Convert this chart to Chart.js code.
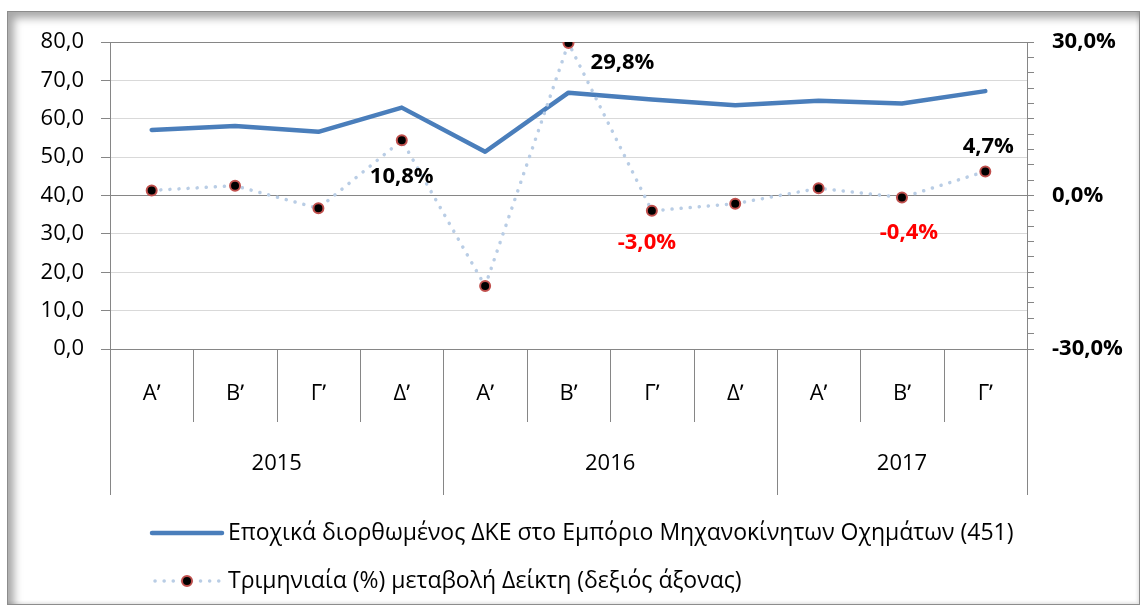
<!DOCTYPE html>
<html lang="el">
<head>
    <meta charset="UTF-8">
    <title>ΔΚΕ Εμπόριο Μηχανοκίνητων Οχημάτων</title>
    <style>
        body { margin: 0; background: #fff; }
        #frame {
            position: absolute; left: 7px; top: 11px; width: 1131px; height: 592px;
            border: 1px solid #8c8c8c;
            box-shadow: inset 6px 6px 8px rgba(0,0,0,0.35), inset -2px -2px 3px rgba(0,0,0,0.08);
        }
        #chart { position: absolute; left: 0; top: 0; }
    </style>
</head>
<body>
    <div id="frame"></div>
    <canvas id="chart" width="1144" height="610"></canvas>

    <script src="https://cdn.jsdelivr.net/npm/chart.js@4.4.0/dist/chart.umd.min.js"></script>
    <script>
        // categories
        const quarters = ['Α\u02B9', 'Β\u02B9', 'Γ\u02B9', 'Δ\u02B9', 'Α\u02B9', 'Β\u02B9', 'Γ\u02B9', 'Δ\u02B9', 'Α\u02B9', 'Β\u02B9', 'Γ\u02B9'];
        const years = ['2015', '2016', '2017'];
        const quartersPerYear = [4, 4, 3];

        // series
        const indexValues = [57.1, 58.1, 56.6, 62.9, 51.4, 66.8, 65.0, 63.5, 64.7, 64.0, 67.2];
        const quarterlyChange = [1.0, 1.9, -2.5, 10.8, -17.7, 29.8, -3.0, -1.6, 1.4, -0.4, 4.7];
        const labelledPoints = [3, 5, 6, 9, 10];

        // axes
        const leftTicks = [0, 10, 20, 30, 40, 50, 60, 70, 80];
        const rightTicks = [-30, 0, 30];
        const rightMinorStep = 3;

        const seriesNames = [
            'Εποχικά διορθωμένος ΔΚΕ στο Εμπόριο Μηχανοκίνητων Οχημάτων (451)',
            'Τριμηνιαία (%) μεταβολή Δείκτη (δεξιός άξονας)'
        ];

        const FONT = '"Open Sans", "Noto Sans", sans-serif';
        const AXIS = '#868686';
        const fmt = v => v.toFixed(1).replace('.', ',');

        // offsets of data labels from their point (px)
        const labelOffsets = { 3: [0, 36], 5: [54, 20], 6: [-5, 32], 9: [7, 35], 10: [3, -25] };

        const extras = {
            id: 'extras',
            afterDraw(chart) {
                const ctx = chart.ctx;
                const xs = chart.scales.x;
                const ca = chart.chartArea;
                const n = quarters.length;
                const half = (xs.getPixelForValue(1) - xs.getPixelForValue(0)) / 2;

                // year boundaries
                const yearEdges = [0];
                quartersPerYear.forEach(q => yearEdges.push(yearEdges[yearEdges.length - 1] + q));
                const bx = i => i === 0 ? ca.left : (i === n ? ca.right : xs.getPixelForValue(i) - half);

                ctx.save();
                ctx.strokeStyle = AXIS;
                ctx.lineWidth = 1;
                for (let i = 0; i <= n; i++) {
                    const x = Math.round(bx(i)) + 0.5;
                    const long = yearEdges.includes(i);
                    ctx.beginPath();
                    ctx.moveTo(x, ca.bottom);
                    ctx.lineTo(x, ca.bottom + (long ? 146 : 73));
                    ctx.stroke();
                }

                ctx.fillStyle = '#000';
                ctx.font = '22px ' + FONT;
                ctx.textAlign = 'center';
                ctx.textBaseline = 'middle';
                years.forEach((y, k) => {
                    const cx = (bx(yearEdges[k]) + bx(yearEdges[k + 1])) / 2;
                    ctx.fillText(y, cx, ca.bottom + 115);
                });

                // legend
                const lx = 152, lw = 70;
                const ly = [533, 581];
                ctx.textAlign = 'left';
                ctx.font = '23px ' + FONT;
                const ds = chart.data.datasets;

                ctx.strokeStyle = ds[1].borderColor;
                ctx.lineWidth = ds[1].borderWidth;
                ctx.lineCap = 'round';
                ctx.beginPath();
                ctx.moveTo(lx, ly[0]);
                ctx.lineTo(lx + lw, ly[0]);
                ctx.stroke();
                ctx.fillText(ds[1].label, lx + lw + 6, ly[0]);

                ctx.strokeStyle = ds[0].borderColor;
                ctx.lineWidth = ds[0].borderWidth;
                ctx.setLineDash(ds[0].borderDash);
                ctx.beginPath();
                ctx.moveTo(lx + 3, ly[1]);
                ctx.lineTo(lx + lw, ly[1]);
                ctx.stroke();
                ctx.setLineDash([]);
                ctx.beginPath();
                ctx.arc(lx + lw / 2, ly[1], ds[0].pointRadius, 0, Math.PI * 2);
                ctx.fillStyle = ds[0].pointBackgroundColor;
                ctx.fill();
                ctx.lineWidth = ds[0].pointBorderWidth;
                ctx.strokeStyle = ds[0].pointBorderColor;
                ctx.stroke();
                ctx.fillStyle = '#000';
                ctx.fillText(ds[0].label, lx + lw + 6, ly[1]);

                // data labels
                const meta = chart.getDatasetMeta(0);
                ctx.font = 'bold 22px ' + FONT;
                ctx.textAlign = 'center';
                labelledPoints.forEach(i => {
                    const p = meta.data[i];
                    const v = quarterlyChange[i];
                    const off = labelOffsets[i];
                    ctx.fillStyle = v < 0 ? '#ff0000' : '#000';
                    ctx.fillText(fmt(v) + '%', p.x + off[0], p.y + off[1]);
                });
                ctx.restore();
            }
        };

        const config = {
            type: 'line',
            data: {
                labels: quarters,
                datasets: [{
                    label: seriesNames[1],
                    data: quarterlyChange,
                    yAxisID: 'y2',
                    order: 0,
                    borderColor: '#b9cde5',
                    borderWidth: 3.5,
                    borderDash: [0.1, 9],
                    borderCapStyle: 'round',
                    pointRadius: 5,
                    pointBorderWidth: 2,
                    pointBackgroundColor: '#000',
                    pointBorderColor: '#c0504d',
                    tension: 0
                }, {
                    label: seriesNames[0],
                    data: indexValues,
                    yAxisID: 'y',
                    order: 1,
                    borderColor: '#4a7ebb',
                    borderWidth: 4.5,
                    borderCapStyle: 'round',
                    borderJoinStyle: 'round',
                    pointRadius: 0,
                    tension: 0
                }]
            },
            options: {
                responsive: false,
                animation: false,
                events: [],
                layout: { padding: { top: 42, left: 0, right: 0, bottom: 0 } },
                plugins: { legend: { display: false }, tooltip: { enabled: false } },
                scales: {
                    x: {
                        offset: true,
                        grid: { drawOnChartArea: false, drawTicks: false, offset: true },
                        border: { color: AXIS },
                        ticks: { color: '#000', font: { family: FONT, size: 22 }, padding: 32, maxRotation: 0, autoSkip: false },
                        afterFit: s => { s.height = 261; }
                    },
                    y: {
                        position: 'left',
                        min: leftTicks[0],
                        max: leftTicks[leftTicks.length - 1],
                        afterBuildTicks: s => { s.ticks = leftTicks.map(v => ({ value: v })); },
                        grid: {
                            color: c => (c.tick && (c.tick.value === 40 || c.tick.value === 80)) ? AXIS : '#d9d9d9',
                            tickColor: AXIS,
                            tickLength: 9
                        },
                        border: { color: AXIS },
                        ticks: { color: '#000', font: { family: FONT, size: 22 }, padding: 17, callback: v => fmt(v) },
                        afterFit: s => { s.width = 110; }
                    },
                    y2: {
                        position: 'right',
                        min: rightTicks[0],
                        max: rightTicks[rightTicks.length - 1],
                        ticks: {
                            stepSize: rightMinorStep,
                            autoSkip: false,
                            color: '#000',
                            font: { family: FONT, size: 22, weight: 'bold' },
                            padding: 18,
                            callback: v => rightTicks.includes(v) ? fmt(v) + '%' : ''
                        },
                        grid: { drawOnChartArea: false, tickColor: AXIS, tickLength: 7 },
                        border: { color: AXIS },
                        afterFit: s => { s.width = 117; }
                    }
                }
            },
            plugins: [extras]
        };

        const chart = new Chart(document.getElementById('chart').getContext('2d'), config);
    </script>
</body>
</html>
